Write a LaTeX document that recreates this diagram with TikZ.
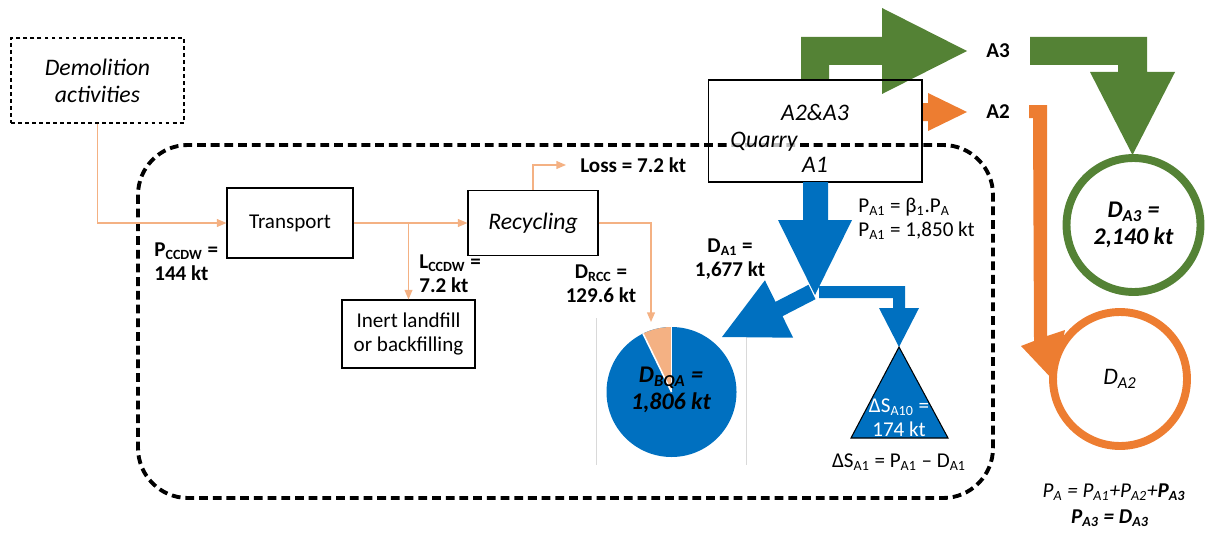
\documentclass[tikz,border=0pt]{standalone}
\usepackage{fontspec}
\setmainfont{Carlito}
\usetikzlibrary{arrows.meta}
\definecolor{gr}{HTML}{548235}
\definecolor{og}{HTML}{ED7D31}
\definecolor{lo}{HTML}{F4B183}
\definecolor{bq}{HTML}{0070C0}
\definecolor{lg}{HTML}{D9D9D9}
\newcommand\myfs{\fontsize{12}{13.8}\selectfont}
\newcommand\myit{\fontsize{13.5}{15.4}\selectfont\itshape}
\newcommand\mybig{\fontsize{13.6}{15}\selectfont}
\begin{document}
\begin{tikzpicture}[x=0.02cm,y=-0.02cm,
  box/.style={draw, line width=0.6pt, inner sep=0pt, align=center, font=\myfs},
  flow/.style={draw=lo, line width=0.8pt, -{Triangle[length=5.5pt,width=4.5pt]}},
  lbl/.style={inner sep=0pt, font=\myfs\bfseries},
  txt/.style={inner sep=0pt, font=\myfs}]
\useasboundingbox (0,0) rectangle (1209,537);

% system boundary
\draw[line width=2.2pt, dash pattern=on 5pt off 2.8pt, rounded corners=1cm] (138,145) rectangle (993,498);

% light grey guide lines
\draw[lg, line width=0.5pt] (596,318) -- (596,465);
\draw[lg, line width=0.5pt] (746,318) -- (746,465);

% demolition
\node[box, dash pattern=on 2.2pt off 1.8pt, minimum width=3.46cm, minimum height=1.7cm, font=\myit] (demo) at (97.5,80.5) {Demolition\\activities};

% process boxes
\node[box, minimum width=2.52cm, minimum height=1.4cm] (transport) at (290,223) {Transport};
\node[box, minimum width=2.6cm, minimum height=1.3cm, font=\myit] (recycling) at (533,223) {Recycling};
\node[box, minimum width=2.66cm, minimum height=1.36cm] (inert) at (408.5,334) {Inert landfill\\or backfilling};

% flows
\coordinate (lossend) at (566,165);
\coordinate (piein) at (651,322);
\draw[flow] (demo.south) |- (transport.west);
\draw[flow] (transport.east) -- (recycling.west);
\draw[flow] (transport.east -| inert.north) -- (inert.north);
\draw[flow] (recycling.north) |- (lossend);
\draw[flow] (recycling.east) -| (piein);

% labels
\node[lbl, anchor=west] (loss) at (580,165) {Loss = 7.2 kt};
\node[lbl, anchor=west, align=left] (pccdw) at (154,262) {P\textsubscript{CCDW} =\\144 kt};
\node[lbl, anchor=west, align=left] (lccdw) at (419,274) {L\textsubscript{CCDW} =\\7.2 kt};
\node[lbl, align=center] (drcc) at (601,284) {D\textsubscript{RCC} =\\129.6 kt};

% pie
\coordinate (pc) at (671.5,392);
\fill[bq] (pc) circle[radius=65];
\fill[lo] (pc) -- ++(-90:65) arc[start angle=-90, end angle=-116, radius=65] -- cycle;
\draw[white, line width=0.9pt] (pc) -- ++(-90:65);
\draw[white, line width=0.9pt] (pc) -- ++(-116:65);
\node[inner sep=0pt, font=\mybig\bfseries\itshape, align=center] (dbqa) at (671,390) {D\textsubscript{BQA} =\\1,806 kt};

% green arrows
\fill[gr] (801,80) -- (801,37) -- (882,37) -- (882,8) -- (967,51) -- (882,94) -- (882,65) -- (829,65) -- (829,80) -- cycle;
\fill[gr] (1030,37) -- (1147,37) -- (1147,72) -- (1175,72) -- (1132.5,155) -- (1090,72) -- (1118,72) -- (1118,65) -- (1030,65) -- cycle;
% orange arrows
\fill[og] (922,103) -- (928,103) -- (928,93) -- (967,112) -- (928,131) -- (928,121) -- (922,121) -- cycle;
\fill[og] (1029,105) -- (1047,105) -- (1047,336) -- (1065,330) -- (1054,381) -- (1021,346) -- (1034,341) -- (1033,118) -- (1029,118) -- cycle;

% quarry
\node[box, minimum width=4.28cm, minimum height=2.04cm] (quarry) at (815,131) {};
\node[inner sep=0pt, font=\myit] (qa23) at (815,112) {A2\&A3};
\node[inner sep=1pt, fill=white, fill opacity=0.75, text opacity=1, font=\myit] (qq) at (764,142) {Quarry};
\node[inner sep=0pt, font=\myit] (qa1) at (815,165) {A1};

\node[lbl] (a3) at (998,51) {A3};
\node[lbl] (a2) at (998,112) {A2};

% destination circles
\node[circle, draw=gr, line width=4.5pt, fill=white, minimum size=2.68cm, inner sep=0pt, align=center, font=\mybig\bfseries\itshape] (da3) at (1133.5,225) {D\textsubscript{A3} =\\2,140 kt};
\node[circle, draw=og, line width=4.5pt, fill=white, minimum size=2.68cm, inner sep=0pt, font=\myit] (da2) at (1120,379) {D\textsubscript{A2}};

% blue arrows
\fill[bq] (803,182) -- (803,220) -- (778,220) -- (815,295) -- (852,220) -- (828,220) -- (828,182) -- cycle;
\fill[bq] (815.5,299.2) -- (782.5,316.2) -- (793.1,337.7) -- (722,337) -- (764.9,280.3) -- (775.5,301.8) -- (808.5,284.8) -- cycle;
\fill[bq] (819,286) -- (905,286) -- (905,308) -- (919,308) -- (899,347) -- (879,308) -- (893,308) -- (893,298) -- (819,298) -- cycle;

% stock triangle
\filldraw[fill=bq, draw=black, line width=0.6pt] (899,347) -- (948,438) -- (851,438) -- cycle;
\node[txt, text=white, align=center] (ds) at (899,418) {ΔS\textsubscript{A10} =\\174 kt};

\node[txt, anchor=west, align=left] (pa1) at (858,219) {P\textsubscript{A1} = β\textsubscript{1}.P\textsubscript{A}\\P\textsubscript{A1} = 1,850 kt};
\node[lbl, align=center] (da1) at (730,259) {D\textsubscript{A1} =\\1,677 kt};
\node[txt] (dsa1) at (899,462) {ΔS\textsubscript{A1} = P\textsubscript{A1} – D\textsubscript{A1}};

% formulas
\node[txt, font=\myfs\itshape] (f1) at (1114,492) {P\textsubscript{A} = P\textsubscript{A1}+P\textsubscript{A2}+\textbf{P\textsubscript{A3}}};
\node[txt, font=\myfs\bfseries\itshape] (f2) at (1110,518) {P\textsubscript{A3} = D\textsubscript{A3}};
\end{tikzpicture}
\end{document}
